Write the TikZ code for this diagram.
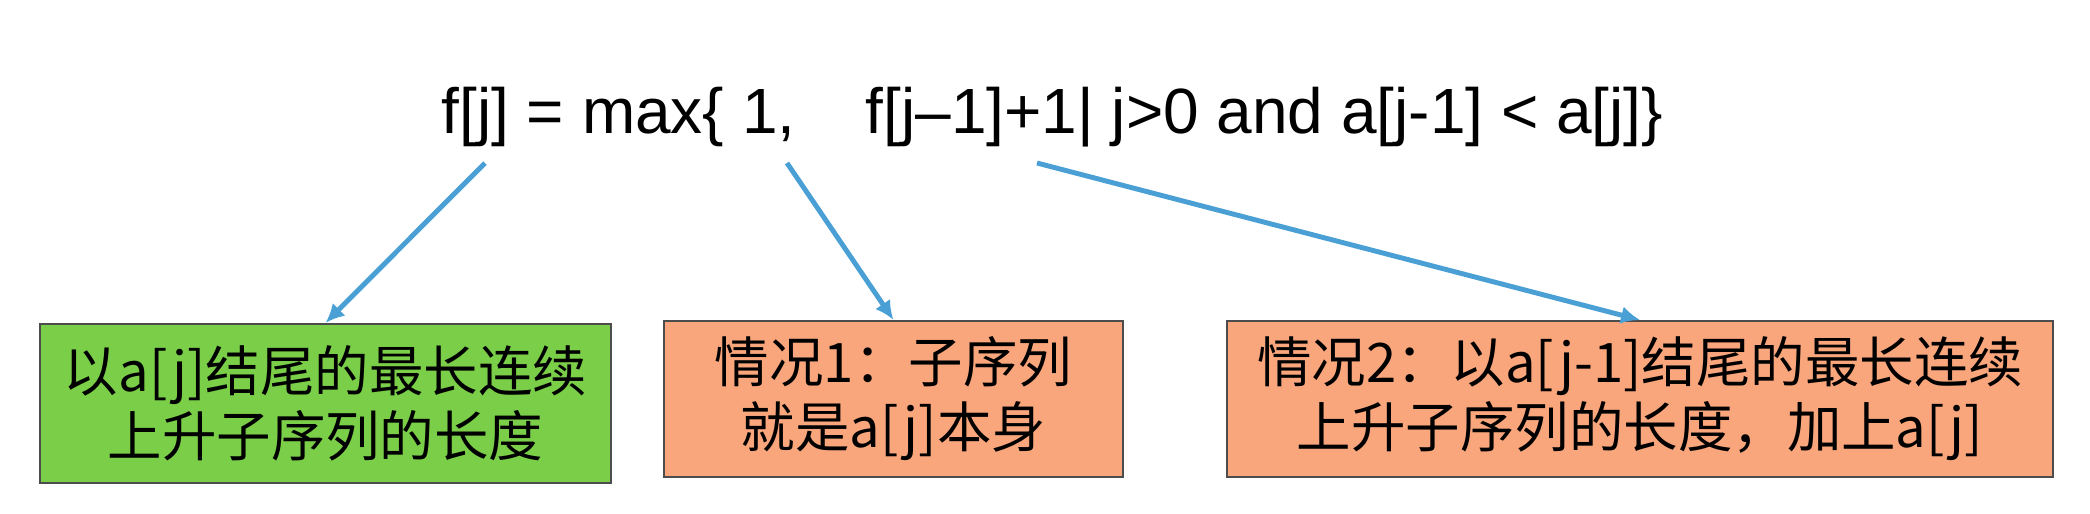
\documentclass[tikz,border=0pt]{standalone}
\usepackage{fontspec}
\setmainfont{Liberation Sans}
\newfontfamily\cjk{Noto Sans CJK SC}
\usetikzlibrary{arrows.meta}

\definecolor{arrowblue}{RGB}{74,160,213}
\definecolor{boxgreen}{RGB}{122,206,72}
\definecolor{boxorange}{RGB}{249,166,124}

\tikzset{
  formula/.style={inner sep=0pt, font=\fontsize{18.2}{22}\selectfont},
  casebox/.style={draw=black!70, line width=0.6pt, align=center, inner sep=0pt,
    minimum height=1.56cm, font=\cjk\fontsize{15.5}{18.5}\selectfont},
  pointer/.style={-{Latex[length=1.9mm, width=1.8mm]}, draw=arrowblue, line width=1.4pt}
}

\begin{document}
\begin{tikzpicture}
    \path [use as bounding box, fill=white] (0, 0) rectangle (20.9, -5.13);
    % the recurrence
    \node [formula, anchor=base west] (fml) at (4.41, -1.33) {f[j] = max\{ 1,\hspace{1.1em}f[j–1]+1| j>0 and a[j-1] < a[j]\}};
    \coordinate (fj) at ([shift={(0.44, -0.30)}]fml.base west);
    \coordinate (one) at ([shift={(3.46, -0.30)}]fml.base west);
    \coordinate (rec) at ([shift={(5.96, -0.30)}]fml.base west);
    % what the terms mean
    \node [casebox, fill=boxgreen, minimum width=5.71cm, minimum height=1.59cm] (len) at (3.255, -4.035) {以a[j]结尾的最长连续\\上升子序列的长度};
    \node [casebox, fill=boxorange, minimum width=4.59cm] (caseone) at (8.935, -3.99) {情况1：子序列\\就是a[j]本身};
    \node [casebox, fill=boxorange, minimum width=8.26cm] (casetwo) at (16.4, -3.99) {情况2：以a[j-1]结尾的最长连续\\上升子序列的长度，加上a[j]};
    \draw [pointer] (fj) -- (len.north);
    \draw [pointer] (one) -- (caseone.north);
    \draw [pointer] (rec) -- (casetwo.north);
\end{tikzpicture}
\end{document}
